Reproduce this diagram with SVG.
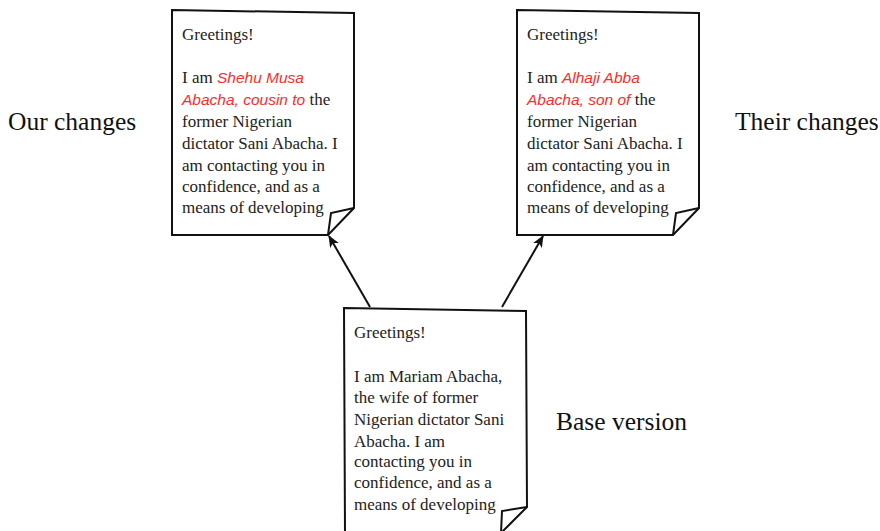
<svg xmlns="http://www.w3.org/2000/svg" width="880" height="531" viewBox="0 0 880 531">
<defs>
<style>
.doc{fill:#fff;stroke:#111;stroke-width:2;stroke-linejoin:miter}
.fold{fill:none;stroke:#111;stroke-width:2}
.t{font-family:"Liberation Serif","Times New Roman",serif;font-size:17px;fill:#222}
.r{font-family:"Liberation Sans",Arial,sans-serif;font-style:italic;font-size:15.5px;fill:#ff2a2a}
.lbl{font-family:"Liberation Serif","Times New Roman",serif;font-size:25.5px;fill:#111}
.edge{stroke:#111;stroke-width:2;fill:none;marker-end:url(#ah)}
</style>
<marker id="ah" viewBox="0 0 12 10" refX="11" refY="5" markerWidth="12" markerHeight="10" markerUnits="userSpaceOnUse" orient="auto">
<path d="M0,0 L12,5 L0,10 L3,5 Z" fill="#111"/>
</marker>
</defs>
<g id="labels">
<text class="lbl" x="8" y="130">Our changes</text>
<text class="lbl" x="735" y="130">Their changes</text>
<text class="lbl" x="556" y="430">Base version</text>
</g>
<g id="edges">
<path class="edge" d="M370,307 L329,236"/>
<path class="edge" d="M502,307 L543,236"/>
</g>
<g id="ours">
<path class="doc" d="M172,10 L354,13 L354,208 L328,235 L172,235 Z"/>
<path class="fold" d="M328,235 L331,213 L354,208"/>
<text class="t" x="182" y="40">Greetings!</text>
<text class="t" x="182" y="83">I am <tspan class="r">Shehu Musa</tspan></text>
<text class="t" x="182" y="105"><tspan class="r">Abacha, cousin to</tspan> the</text>
<text class="t" x="182" y="127">former Nigerian</text>
<text class="t" x="182" y="149">dictator Sani Abacha. I</text>
<text class="t" x="182" y="171">am contacting you in</text>
<text class="t" x="182" y="192">confidence, and as a</text>
<text class="t" x="182" y="213">means of developing</text>
</g>
<g id="theirs">
<path class="doc" d="M517,10 L699,13 L699,208 L673,235 L517,235 Z"/>
<path class="fold" d="M673,235 L676,213 L699,208"/>
<text class="t" x="527" y="40">Greetings!</text>
<text class="t" x="527" y="83">I am <tspan class="r">Alhaji Abba</tspan></text>
<text class="t" x="527" y="105"><tspan class="r">Abacha, son of</tspan> the</text>
<text class="t" x="527" y="127">former Nigerian</text>
<text class="t" x="527" y="149">dictator Sani Abacha. I</text>
<text class="t" x="527" y="171">am contacting you in</text>
<text class="t" x="527" y="192">confidence, and as a</text>
<text class="t" x="527" y="213">means of developing</text>
</g>
<g id="base">
<path class="doc" d="M344,308 L526,311 L527,507 L501,533 L345,533 Z"/>
<path class="fold" d="M501,533 L502,511 L527,507"/>
<text class="t" x="354" y="338">Greetings!</text>
<text class="t" x="354" y="382">I am Mariam Abacha,</text>
<text class="t" x="354" y="403">the wife of former</text>
<text class="t" x="354" y="425">Nigerian dictator Sani</text>
<text class="t" x="354" y="447">Abacha. I am</text>
<text class="t" x="354" y="467">contacting you in</text>
<text class="t" x="354" y="488">confidence, and as a</text>
<text class="t" x="354" y="510">means of developing</text>
</g>
</svg>
